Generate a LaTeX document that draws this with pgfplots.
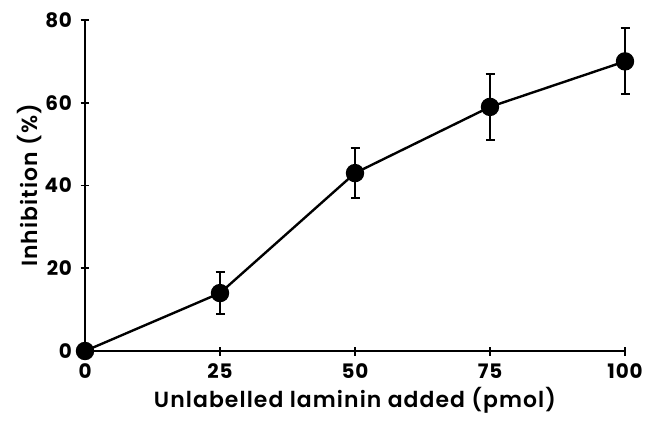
\documentclass[border=0pt]{standalone}
\usepackage{pgfplots}
\pgfplotsset{compat=1.18}
\usepackage{fontspec}
\setmainfont{Poppins}[BoldFont={Poppins SemiBold}]
\newfontfamily\lblfont{Poppins SemiBold}[LetterSpace=5]
\newfontfamily\tckfont{Poppins Bold}[LetterSpace=4]
\begin{document}
\begin{tikzpicture}
\useasboundingbox (-85bp,-81bp) rectangle (569bp,351bp);
\begin{axis}[
  at={(0,0)}, anchor=south west,
  scale only axis,
  width=540bp, height=331bp,
  xmin=0, xmax=100, ymin=0, ymax=80,
  axis x line*=bottom, axis y line*=left,
  axis line style={line width=2pt, -},
  xtick={0,25,50,75,100}, ytick={0,20,40,60,80},
  tick align=center,
  major tick length=9bp,
  tick style={line width=1.6pt, black},
  clip=false,
  /pgf/number format/assume math mode=true,
  ticklabel style={font=\tckfont\fontsize{20}{22}\selectfont},
  xticklabel style={yshift=-5bp},
  yticklabel style={xshift=-5bp},
  xlabel={Unlabelled laminin added (pmol)},
  ylabel={Inhibition (\%)},
  label style={font=\lblfont\fontsize{22}{26}\selectfont},
  xlabel style={at={(axis description cs:0.5,0)}, anchor=center, yshift=-49bp},
  ylabel style={at={(axis description cs:0,0.5)}, anchor=center, rotate=0, yshift=55bp},
]
\addplot[black, line width=2.4pt, mark=*, mark size=8bp,
  error bars/.cd, y dir=both, y explicit,
  error bar style={line width=2.2pt},
  error mark options={rotate=90, mark size=4.5bp, line width=2pt}]
  table[x=x, y=y, y error=e] {
x y e
0 0 0
25 14 5
50 43 6
75 59 8
100 70 8
};
\end{axis}
\end{tikzpicture}
\end{document}
